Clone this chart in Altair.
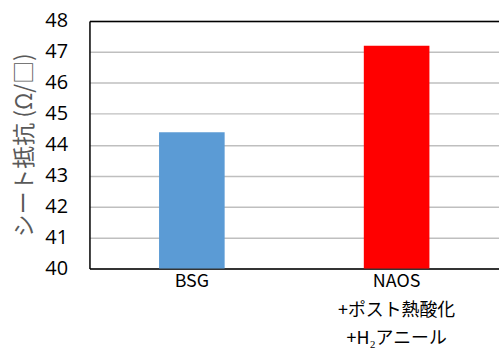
import altair as alt
import pandas as pd

# Sheet resistance for each process condition
categories = ["BSG", "NAOS|+ポスト熱酸化|+H₂アニール"]
values = [44.4, 47.2]
colors = ["#5B9BD5", "#FF0000"]
y_min, y_max = 40, 48

df = pd.DataFrame({"cond": categories, "r": values, "color": colors})

font_lat = "Open Sans"
font_jp = "Noto Sans CJK JP"

bars = (
    alt.Chart(df)
    .mark_bar(size=66, clip=True)
    .encode(
        x=alt.X(
            "cond:N",
            sort=categories,
            title=None,
            axis=alt.Axis(
                orient="bottom",
                labelAngle=0,
                labelExpr="split(datum.label, '|')",
                labelFont=font_jp,
                labelFontSize=18,
                labelColor="#000000",
                labelLineHeight=29,
                labelPadding=4,
                labelBaseline="top",
                ticks=False,
                domainColor="#000000",
                domainWidth=1.5,
            ),
        ),
        y=alt.Y(
            "r:Q",
            title="シート抵抗 (Ω/□)",
            scale=alt.Scale(domain=[y_min, y_max], nice=False, zero=False),
            axis=alt.Axis(
                values=list(range(y_min, y_max + 1)),
                format="d",
                labelFont=font_lat,
                labelFontSize=20,
                labelColor="#000000",
                labelPadding=22,
                labelOverlap=False,
                ticks=False,
                domainColor="#000000",
                domainWidth=1.5,
                gridColor="#BFBFBF",
                gridWidth=1.5,
                titleFont=font_jp,
                titleFontSize=23,
                titleFontWeight="normal",
                titleColor="#595959",
                titlePadding=8,
            ),
        ),
        color=alt.Color("color:N", scale=None),
    )
)

# top frame line of the plot area: an x axis on top showing only its domain
top_frame = (
    alt.Chart(df)
    .mark_point(opacity=0)
    .encode(
        x=alt.X(
            "cond:N",
            sort=categories,
            title=None,
            axis=alt.Axis(
                orient="top",
                labels=False,
                ticks=False,
                grid=False,
                domainColor="#000000",
                domainWidth=1.5,
            ),
        )
    )
)

chart = (
    alt.layer(bars, top_frame)
    .resolve_axis(x="independent")
    .properties(
        width=412,
        height=249,
        padding={"left": 90, "top": 20, "right": 0, "bottom": 84},
        autosize=alt.AutoSizeParams(type="none"),
    )
    .configure_view(stroke=None)
)

chart.save("out.html", embed_options={"renderer": "svg", "actions": False})
